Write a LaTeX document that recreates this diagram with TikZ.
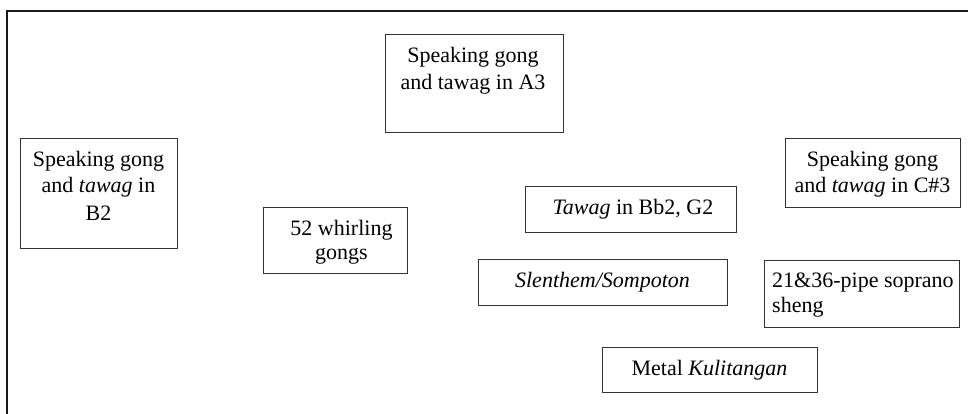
\documentclass[tikz,border=0pt]{standalone}
\usepackage{fontspec}
\setmainfont{Liberation Serif}
\begin{document}
\begin{tikzpicture}[x=1pt,y=-1pt,
  box/.style={draw=black!80, line width=1.2pt, inner sep=0pt, anchor=north west},
  txt/.style={inner sep=0pt, font=\fontsize{22}{26}\selectfont, anchor=base},
  txtl/.style={txt, anchor=base west}]
\useasboundingbox (0,0) rectangle (968,414);
% outer frame (clipped at right and bottom)
\coordinate (fr1) at (968,11.5);
\coordinate (fr2) at (6.5,11.5);
\coordinate (fr3) at (6.5,414);
\draw[line width=2pt, black!90] (fr1) -- (fr2) -- (fr3);
% boxes
\node[box, minimum width=178pt, minimum height=98pt] (a3) at (385,34) {};
\node[box, minimum width=157pt, minimum height=110pt] (b2) at (20,138) {};
\node[box, minimum width=175pt, minimum height=69pt] (c3) at (785,138) {};
\node[box, minimum width=211pt, minimum height=46pt] (tw) at (525,186) {};
\node[box, minimum width=144pt, minimum height=66pt] (wh) at (263,207) {};
\node[box, minimum width=249pt, minimum height=46pt] (sl) at (478,259) {};
\node[box, minimum width=195pt, minimum height=67pt] (sh) at (764,260) {};
\node[box, minimum width=215pt, minimum height=45pt] (ku) at (602,347) {};
% texts
\node[txt] (a3a) at (473,63) {Speaking gong};
\node[txt] (a3b) at (473,90) {and tawag in A3};
\node[txt] (b2a) at (98.5,167) {Speaking gong};
\node[txt] (b2b) at (98.5,193) {and \textit{tawag} in};
\node[txt] (b2c) at (98.5,220) {B2};
\node[txt] (c3a) at (872.5,167) {Speaking gong};
\node[txt] (c3b) at (872.5,193) {and \textit{tawag} in C\#3};
\node[txt] (twa) at (633,214) {\textit{Tawag} in Bb2, G2};
\node[txt] (wha) at (341.5,235) {52 whirling};
\node[txt] (whb) at (341.5,259) {gongs};
\node[txt] (sla) at (602.5,287) {\textit{Slenthem/Sompoton}};
\node[txtl] (sha) at (772,287) {21\&36-pipe soprano};
\node[txtl] (shb) at (772,312) {sheng};
\node[txt] (kua) at (709.5,375) {Metal \textit{Kulitangan}};
\end{tikzpicture}
\end{document}
